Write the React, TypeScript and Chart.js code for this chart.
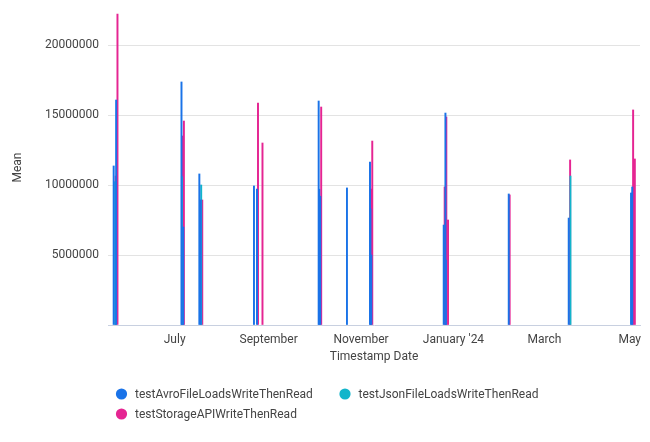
import { useEffect, useRef } from 'react';
import { Chart, registerables } from 'chart.js';

Chart.register(...registerables);

const seriesNames = [
  'testAvroFileLoadsWriteThenRead',
  'testJsonFileLoadsWriteThenRead',
  'testStorageAPIWriteThenRead',
];
const seriesColors = ['#1a73e8', '#12b5cb', '#e52592'];

const avroTimes = [
  '2023-05-21T18:00', '2023-05-23T09:00', '2023-07-05T12:00', '2023-07-06T16:00',
  '2023-07-17T07:00', '2023-07-18T04:00', '2023-08-22T08:00', '2023-08-24T08:00',
  '2023-10-04T01:00', '2023-10-04T10:00', '2023-10-05T02:00', '2023-10-22T17:00',
  '2023-11-06T22:00', '2023-11-07T05:00', '2023-11-07T19:00', '2023-12-25T14:00',
  '2023-12-26T17:00', '2023-12-27T00:00', '2024-02-06T12:00', '2024-03-17T02:00',
  '2024-04-27T05:00', '2024-04-28T00:00',
];
const avroMeans = [
  11360000, 16070000, 17360000, 7000000,
  10790000, 8930000, 9930000, 9710000,
  16000000, 9700000, 9200000, 9790000,
  11640000, 8290000, 5000000, 7140000,
  15140000, 4640000, 9360000, 7640000,
  9430000, 9860000,
];

const jsonTimes = ['2023-05-22T17:00', '2023-07-05T19:00', '2023-07-18T12:00', '2024-03-18T05:00'];
const jsonMeans = [10240000, 10600000, 10000000, 10640000];

const storageTimes = [
  '2023-05-23T02:00', '2023-05-24T06:00', '2023-07-06T04:00', '2023-07-07T02:00',
  '2023-07-19T05:00', '2023-08-25T00:00', '2023-08-27T23:00', '2023-10-05T17:00',
  '2023-11-07T14:00', '2023-11-08T10:00', '2023-12-26T05:00', '2023-12-27T07:00',
  '2023-12-28T10:00', '2024-02-07T02:00', '2024-03-18T00:00', '2024-04-28T14:00',
  '2024-04-29T17:00',
];
const storageMeans = [
  10640000, 22200000, 13500000, 14570000,
  8930000, 15860000, 13000000, 15570000,
  9710000, 13140000, 9860000, 14860000,
  7500000, 9290000, 11790000, 15360000,
  11860000,
];

const xTickDates = ['2023-07-01T00:00', '2023-09-01T00:00', '2023-11-01T00:00', '2024-01-01T00:00', '2024-03-01T00:00', '2024-05-01T00:00'];
const xTickLabels = ['July', 'September', 'November', "January '24", 'March', 'May'];
const xRange = ['2023-05-18T00:00', '2024-05-03T03:00'];
const yTicks = [0, 5000000, 10000000, 15000000, 20000000];
const yMax = 22500000;

const toMs = (s: string) => Date.parse(s + ':00Z');

const TEXT = '#444444';
const FONT = { family: 'Roboto', size: 12 };

const noPad = (scale: any) => {
  scale.paddingLeft = 0;
  scale.paddingRight = 0;
  scale.paddingTop = 0;
  scale.paddingBottom = 0;
};

// Keep x tick labels inside the plot's right edge (as the original renderer does).
const clampLabelsPlugin = {
  id: 'clampLabels',
  beforeDraw(chart: any) {
    const s = chart.scales.x;
    if (!s || s.__clamped) return;
    s.__clamped = true;
    const orig = s.getLabelItems.bind(s);
    s.getLabelItems = (ca: any) => {
      const items = orig(ca);
      const ctx = chart.ctx as CanvasRenderingContext2D;
      ctx.save();
      ctx.font = '12px Roboto';
      items.forEach((it: any) => {
        const w = ctx.measureText(String(it.label)).width;
        const x = it.options.translation[0];
        const limit = chart.chartArea.right + 1;
        if (it.options.textAlign === 'center' && x + w / 2 > limit) {
          it.options.translation = [limit, it.options.translation[1]];
          it.options.textAlign = 'right';
        }
      });
      ctx.restore();
      return items;
    };
  },
};

const legendPlugin = {
  id: 'bottomLegend',
  afterDraw(chart: any) {
    const ctx = chart.ctx as CanvasRenderingContext2D;
    const slots = [
      [121.5, 394],
      [345, 394],
      [121.5, 414],
    ];
    ctx.save();
    ctx.font = '12px Roboto';
    ctx.textBaseline = 'middle';
    ctx.textAlign = 'left';
    chart.data.datasets.forEach((ds: any, i: number) => {
      const [cx, cy] = slots[i];
      ctx.fillStyle = ds.backgroundColor;
      ctx.beginPath();
      ctx.arc(cx, cy, 5.6, 0, Math.PI * 2);
      ctx.fill();
      ctx.fillStyle = TEXT;
      ctx.fillText(ds.label, cx + 13.5, cy + 0.5);
    });
    ctx.restore();
  },
};

export default function App() {
  const canvasRef = useRef<HTMLCanvasElement | null>(null);

  useEffect(() => {
    if (!canvasRef.current) return;
    const mk = (times: string[], vals: number[]) => times.map((t, i) => ({ x: toMs(t), y: vals[i] }));
    const all = [
      mk(avroTimes, avroMeans),
      mk(jsonTimes, jsonMeans),
      mk(storageTimes, storageMeans),
    ];
    const xTicks = xTickDates.map(toMs);

    const chart = new Chart(canvasRef.current, {
      type: 'bar',
      data: {
        datasets: all.map((d, i) => ({
          label: seriesNames[i],
          data: d,
          backgroundColor: seriesColors[i],
          borderWidth: 0,
          barThickness: 1.3,
          grouped: false,
        })) as any,
      },
      options: {
        animation: false,
        responsive: true,
        maintainAspectRatio: false,
        layout: { padding: { top: 10, right: 10, bottom: 72, left: 0 } },
        plugins: {
          legend: { display: false },
          tooltip: { enabled: false },
        },
        scales: {
          x: {
            type: 'linear',
            offset: false,
            min: toMs(xRange[0]),
            max: toMs(xRange[1]),
            grid: { display: false, drawTicks: false },
            border: { display: true, color: '#c8d0e0', width: 1 },
            afterBuildTicks: (scale: any) => {
              scale.ticks = xTicks.map((v) => ({ value: v }));
            },
            afterFit: (scale: any) => {
              scale.height = 45;
              noPad(scale);
            },
            ticks: {
              autoSkip: false,
              maxRotation: 0,
              padding: 8,
              color: TEXT,
              font: FONT,
              callback: (_v: any, idx: number) => xTickLabels[idx],
            },
            title: {
              display: true,
              text: 'Timestamp Date',
              color: TEXT,
              font: FONT,
              padding: { top: 0, bottom: 6 },
            },
          },
          y: {
            min: 0,
            max: yMax,
            afterBuildTicks: (scale: any) => {
              scale.ticks = yTicks.map((v) => ({ value: v }));
            },
            afterFit: (scale: any) => {
              scale.width = 108;
              noPad(scale);
            },
            grid: {
              drawTicks: false,
              color: (c: any) => (c.tick && c.tick.value === 0 ? 'rgba(0,0,0,0)' : '#e3e3e3'),
            },
            border: { display: false },
            ticks: {
              padding: 9,
              color: TEXT,
              font: FONT,
              callback: (v: any) => (Number(v) === 0 ? '' : String(v)),
            },
            title: {
              display: true,
              text: 'Mean',
              color: TEXT,
              font: FONT,
              padding: { top: 11, bottom: 0 },
            },
          },
        } as any,
      },
      plugins: [clampLabelsPlugin, legendPlugin],
    });
    return () => chart.destroy();
  }, []);

  return (
    <div style={{ position: 'absolute', left: 0, top: 0, width: 650, height: 442, background: '#fff' }}>
      <canvas ref={canvasRef} />
    </div>
  );
}
